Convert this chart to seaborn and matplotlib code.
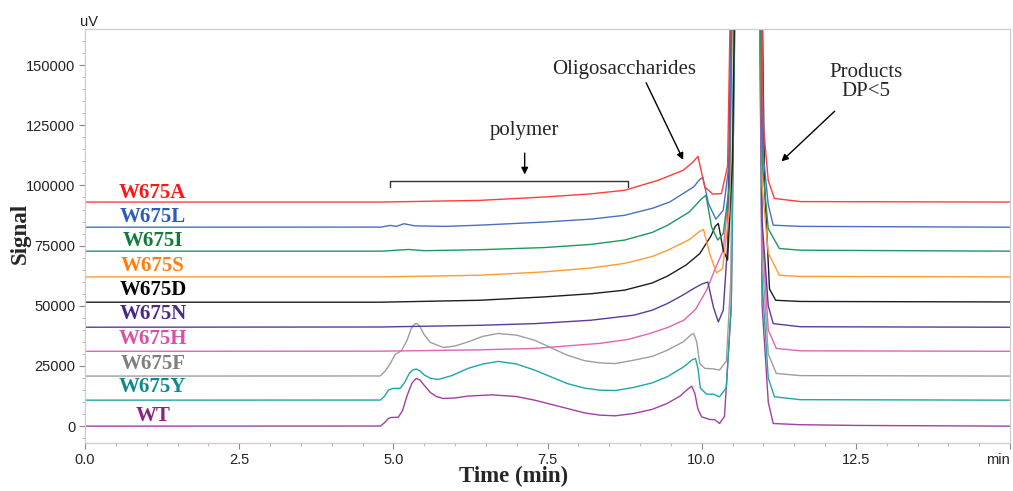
import numpy as np
import pandas as pd
import matplotlib
matplotlib.use('Agg')
import matplotlib.pyplot as plt
import seaborn as sns

# sample names, bottom to top
samples = ['WT', 'W675Y', 'W675F', 'W675H', 'W675N', 'W675D', 'W675S', 'W675I', 'W675L', 'W675A']

line_colors = ['#a23fa0', '#1fa6a6', '#9e9e9e', '#e064b4', '#5b3a9c',
               '#1e1e1e', '#ff9a33', '#1a9a5c', '#4a6fc4', '#ff3d3d']
label_colors = ['#8b2283', '#0b8c8c', '#7f7f7f', '#dc4fa6', '#4a2888',
                '#000000', '#ff7f0e', '#0e7b3c', '#2c5cb4', '#ff1616']

# label positions (signal, label centred at t = 1.1 min)
label_y = [4150, 16300, 25800, 36400, 46800, 56700, 66700, 76900, 86900, 96800]

# traces (time in min, signal in uV, already stacked)
t_wt = [0, 4.79, 4.86, 4.92, 4.97, 5.08, 5.15, 5.22, 5.3, 5.37, 5.43, 5.5, 5.6, 5.7, 5.81, 6.0, 6.21, 6.6,
        7.0, 7.29, 7.82, 8.1, 8.35, 8.6, 8.9, 9.2, 9.44, 9.65, 9.78, 9.84, 9.89, 9.94, 10.0, 10.13, 10.21,
        10.29, 10.37, 10.48, 10.6, 10.75, 10.9, 10.98, 11.08, 11.16, 11.6, 12.5, 15]
s_wt = [0, 50, 1500, 3200, 3600, 3700, 6500, 12500, 17800, 19800, 19200, 17000, 14000, 12300, 11500, 11700, 12500, 13000,
        12300, 10800, 7350, 5500, 4570, 4300, 5270, 7000, 9430, 12500, 15500, 16600, 13500, 7000, 3860, 2780, 2700,
        1120, 4000, 50000, 300000, 900000, 300000, 50000, 10000, 1100, 600, 300, 0]

t_y = [0, 4.79, 4.86, 4.92, 5.0, 5.11, 5.18, 5.26, 5.32, 5.37, 5.43, 5.5, 5.6, 5.73, 5.95, 6.21, 6.45, 6.7, 7.0,
       7.29, 7.82, 8.1, 8.35, 8.6, 8.9, 9.2, 9.44, 9.7, 9.85, 9.9, 9.94, 9.98, 10.08, 10.19, 10.29, 10.4,
       10.48, 10.6, 10.75, 10.9, 10.98, 11.08, 11.18, 11.6, 15]
s_y = [10800, 10850, 12500, 14950, 15700, 15700, 18000, 22000, 23400, 23700, 23000, 21300, 19900, 19400, 21000, 24000, 25800, 26900, 25800,
       23300, 17700, 15800, 14950, 14800, 16100, 18000, 20500, 24500, 27600, 28100, 24000, 15700, 13300, 13300, 12200, 16000,
       50000, 300000, 900000, 300000, 60000, 20000, 12200, 11000, 10800]

t_f = [0, 4.79, 4.87, 4.95, 5.03, 5.13, 5.22, 5.29, 5.34, 5.38, 5.43, 5.5, 5.6, 5.81, 6.0, 6.21, 6.45, 6.7, 7.0,
       7.29, 7.82, 8.1, 8.35, 8.6, 8.9, 9.2, 9.44, 9.7, 9.83, 9.87, 9.92, 9.97, 10.05, 10.19, 10.29, 10.4,
       10.47, 10.58, 10.75, 10.9, 10.98, 11.08, 11.21, 11.6, 15]
s_f = [20800, 20850, 23000, 26000, 29800, 31300, 35500, 40500, 42300, 42700, 41500, 38000, 34800, 32700, 33300, 35000, 37300, 38500, 37800,
       35700, 29500, 27200, 26300, 26000, 27400, 29000, 31500, 35000, 38000, 38500, 35000, 26000, 24000, 23800, 23300, 27000,
       60000, 300000, 900000, 300000, 70000, 30000, 21900, 21000, 20800]

t_h = [0, 4.8, 6.4, 7.3, 8.35, 8.8, 9.16, 9.45, 9.71, 9.9, 10.08, 10.21, 10.35, 10.45,
       10.55, 10.75, 10.9, 10.98, 11.08, 11.21, 11.6, 15]
s_h = [31100, 31150, 31700, 32300, 34400, 36000, 38500, 41000, 44000, 48500, 56500, 64800, 73100, 100000,
       300000, 900000, 300000, 80000, 40000, 32300, 31300, 31100]

t_n = [0, 4.8, 6.4, 7.3, 8.2, 8.9, 9.2, 9.44, 9.7, 9.87, 10.0, 10.1, 10.19, 10.27, 10.35,
       10.42, 10.55, 10.75, 10.9, 10.98, 11.08, 11.16, 11.6, 15]
s_n = [41100, 41200, 41900, 42600, 44000, 46100, 48200, 50900, 54500, 57200, 59000, 59900, 49500, 43300, 48200,
       75000, 300000, 900000, 300000, 85000, 50000, 42600, 41300, 41100]

t_d = [0, 4.8, 6.4, 7.45, 8.2, 8.75, 9.2, 9.45, 9.75, 9.97, 10.15, 10.22, 10.27, 10.35,
       10.42, 10.5, 10.6, 10.75, 10.92, 11.02, 11.1, 11.2, 11.6, 15]
s_d = [51500, 51500, 52300, 53700, 55000, 56500, 59500, 62400, 67000, 71700, 79000, 83000, 84200, 73100,
       69000, 110000, 300000, 900000, 300000, 100000, 57000, 52300, 51800, 51600]

t_s = [0, 4.8, 6.4, 7.45, 8.2, 8.75, 9.2, 9.45, 9.8, 9.97, 10.03, 10.13, 10.24, 10.34,
       10.45, 10.57, 10.75, 10.9, 10.98, 11.08, 11.26, 11.6, 15]
s_s = [62000, 62000, 62700, 64100, 65700, 67600, 70500, 73100, 77500, 81000, 81700, 71700, 63700, 65500,
       90000, 300000, 900000, 300000, 100000, 72000, 62700, 62200, 62000]

t_i = [0, 4.8, 5.25, 5.5, 6.4, 7.45, 8.2, 8.75, 9.2, 9.45, 9.8, 10.0, 10.07, 10.16, 10.26, 10.35,
       10.45, 10.57, 10.75, 10.9, 10.98, 11.08, 11.26, 11.6, 15]
s_i = [72700, 72700, 73400, 72900, 73300, 74200, 75500, 77300, 80500, 83500, 89000, 94500, 95900, 82800, 77300, 80000,
       100000, 300000, 900000, 300000, 110000, 82000, 73800, 73100, 72700]

t_l = [0, 4.8, 4.95, 5.05, 5.17, 5.35, 5.85, 6.4, 7.45, 8.2, 8.75, 9.2, 9.48, 9.87, 9.97, 10.02,
       10.11, 10.23, 10.35, 10.45, 10.56, 10.75, 10.91, 10.99, 11.08, 11.16, 11.6, 15]
s_l = [82650, 82700, 83400, 83000, 84100, 83200, 83000, 83500, 84800, 86000, 87600, 90500, 93100, 99400, 102500, 103300,
       92500, 86000, 89700, 110000, 300000, 900000, 300000, 115000, 92000, 83500, 83000, 82650]

t_a = [0, 4.8, 6.4, 7.45, 8.2, 8.75, 9.3, 9.7, 9.85, 9.94, 10.05, 10.18, 10.32, 10.42,
       10.55, 10.75, 10.92, 11.0, 11.08, 11.18, 11.6, 15]
s_a = [93100, 93100, 93800, 95200, 96500, 98000, 102200, 106300, 109500, 112100, 99400, 96400, 96600, 108000,
       300000, 900000, 300000, 125000, 102000, 94600, 93300, 93100]

times = [t_wt, t_y, t_f, t_h, t_n, t_d, t_s, t_i, t_l, t_a]
signals = [s_wt, s_y, s_f, s_h, s_n, s_d, s_s, s_i, s_l, s_a]

df = pd.concat([pd.DataFrame({'time': t, 'signal': s, 'sample': name})
                for name, t, s in zip(samples, times, signals)], ignore_index=True)

sns.set_style('white')
serif = ['Liberation Serif', 'DejaVu Serif']
sans = ['Liberation Sans', 'DejaVu Sans']
plt.rcParams['font.family'] = sans

fig = plt.figure(figsize=(10.13, 4.91), dpi=100)
ax = fig.add_axes([85 / 1013, 1 - 443 / 491, 925 / 1013, 414 / 491])

sns.lineplot(data=df, x='time', y='signal', hue='sample', hue_order=samples,
             palette=dict(zip(samples, line_colors)), estimator=None, sort=False,
             linewidth=1.0, legend=False, ax=ax)

ax.set_xlim(0, 15)
ax.set_ylim(-7000, 165000)
ax.set_xlabel('')
ax.set_ylabel('')

ax.set_xticks([0, 2.5, 5, 7.5, 10, 12.5, 15])
ax.set_xticklabels(['0.0', '2.5', '5.0', '7.5', '10.0', '12.5', 'min'])
ax.get_xticklabels()[-1].set_horizontalalignment('right')
ax.set_xticks(np.arange(0, 15.01, 0.5), minor=True)
ax.set_yticks(np.arange(0, 150001, 25000))
ax.set_yticks(np.arange(-5000, 165000, 5000), minor=True)
ax.tick_params(axis='both', which='major', length=4, width=0.8, color='#888888',
               labelsize=10.5, labelcolor='#222222', pad=3, bottom=True, left=True)
ax.tick_params(axis='both', which='minor', length=2, width=0.6, color='#aaaaaa',
               bottom=True, left=True)
for sp in ax.spines.values():
    sp.set_color('#cccccc')
    sp.set_linewidth(0.9)

# sample labels
for name, y, c in zip(samples, label_y, label_colors):
    ax.text(1.1, y, name, color=c, fontsize=15, fontweight='bold', family=serif,
            ha='center', va='center')

# axis titles
fig.text(20 / 1013, 1 - 233 / 491, 'Signal', rotation=90, fontsize=16.5,
         fontweight='bold', family=serif, ha='center', va='center')
fig.text(514 / 1013, 1 - 476 / 491, 'Time (min)', fontsize=16.5,
         fontweight='bold', family=serif, ha='center', va='center')
fig.text(89 / 1013, 1 - 22 / 491, 'uV', fontsize=10.5, color='#222222', ha='center', va='center')

# annotations
ax.plot([4.94, 4.94, 8.8, 8.8], [99300, 102000, 102000, 99300], color='#333333', lw=1)
ax.annotate('', xy=(7.13, 103400), xytext=(7.13, 114600),
            arrowprops=dict(arrowstyle='-|>', color='black', lw=1, mutation_scale=10))
ax.text(7.13, 122700, 'polymer', fontsize=15, family=serif, ha='center', va='center')

ax.annotate('', xy=(9.72, 109600), xytext=(9.08, 143700),
            arrowprops=dict(arrowstyle='-|>', color='black', lw=1, mutation_scale=10))
ax.text(8.74, 148300, 'Oligosaccharides', fontsize=15, family=serif, ha='center', va='center')

ax.annotate('', xy=(11.26, 109200), xytext=(12.19, 131650),
            arrowprops=dict(arrowstyle='-|>', color='black', lw=1, mutation_scale=10))
ax.text(12.67, 143000, 'Products\nDP<5', fontsize=15, family=serif, ha='center', va='center',
        linespacing=0.95)

plt.savefig('out.png', dpi=100)
